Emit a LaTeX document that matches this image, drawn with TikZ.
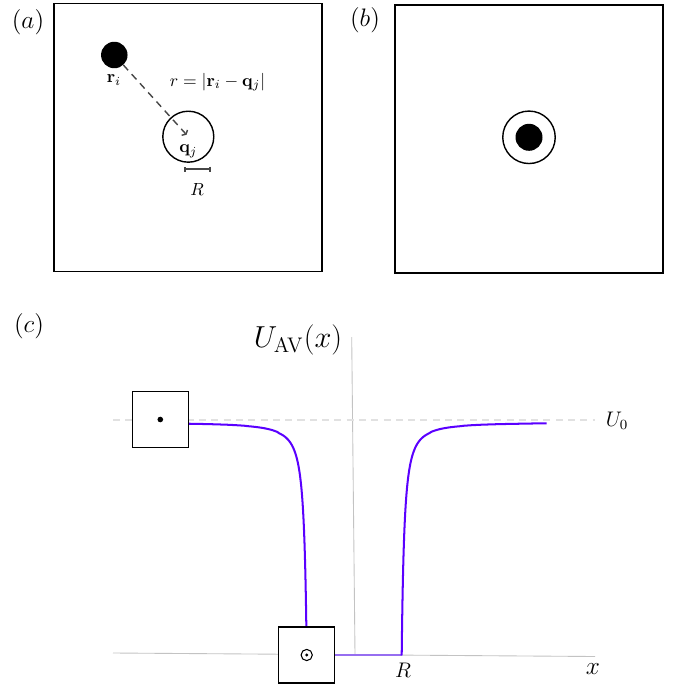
\documentclass[tikz,border=0pt]{standalone}
\usepackage{amsmath}
\usepackage{tikz}
\usetikzlibrary{arrows.meta,positioning}
\definecolor{ink}{RGB}{0,0,0}
\definecolor{darkline}{RGB}{70,70,70}
\definecolor{axisgray}{RGB}{195,195,195}
\definecolor{guidegray}{RGB}{225,225,225}
\definecolor{violet}{RGB}{90,0,255}
\definecolor{softviolet}{RGB}{150,110,240}
\tikzset{
  panel/.style={draw=ink,line width=1pt,minimum size=5.36cm,inner sep=0pt},
  site/.style={circle,fill=ink,inner sep=0pt},
  probe/.style={circle,draw=ink,line width=0.8pt,inner sep=0pt},
  inset/.style={draw=ink,line width=0.6pt,fill=white,minimum size=1.12cm,inner sep=0pt},
  tag/.style={font=\Large},
  axisline/.style={draw=axisgray,line width=0.5pt},
  guide/.style={draw=guidegray,line width=0.6pt,dash pattern=on 4pt off 3pt},
  curve/.style={draw=violet,line width=1.15pt},
  flat/.style={draw=softviolet,line width=1.15pt},
  sep/.style={-{Straight Barb[length=1.2pt,width=4.5pt]},draw=darkline,line width=0.8pt,dash pattern=on 4pt off 3pt,shorten >=1.5pt},
  ruler/.style={{Bar[width=3pt]}-{Bar[width=3pt]},draw=darkline,line width=1pt}
}

\begin{document}
\begin{tikzpicture}[x=0.02cm,y=-0.02cm]
  \useasboundingbox (0,0) rectangle (689,690);

  % (a) one particle and one probe
  \node[tag] (la) at (28,22) {$(a)$};
  \node[panel] (pa) at (188.3,137.5) {};
  \node[site,minimum size=0.53cm] (ri) at (114.3,55) {};
  \node[probe,minimum size=1.02cm] (qj) at (188.3,136.7) {};
  \node (rilab) at (114,80) {$\mathbf{r}_i$};
  \node (qjlab) at (188.3,151) {$\mathbf{q}_j$};
  \node (dist) at (217.5,82) {$r=|\mathbf{r}_i-\mathbf{q}_j|$};
  \draw[sep] (ri) -- (qj.center);
  \coordinate (rl) at (184,169.3);
  \coordinate (rr) at (210.7,169.3);
  \draw[ruler] (rl) -- (rr);
  \node (rlab) at (197,189) {$R$};

  % (b) probe on top of the particle
  \node[tag] (lb) at (365,20) {$(b)$};
  \node[panel] (pb) at (528.8,139.3) {};
  \node[probe,minimum size=1.05cm] (qb) at (529,137.3) {};
  \node[site,minimum size=0.54cm] (rb) at (529,137.3) {};

  % (c) averaged potential
  \node[tag] (lc) at (29,326) {$(c)$};
  \node[font=\LARGE] (ylab) at (298,340) {$U_{\mathrm{AV}}(x)$};
  \coordinate (ytop) at (351.7,337);
  \coordinate (ybot) at (355,654.5);
  \coordinate (xleft) at (113,653);
  \coordinate (xright) at (595,656.5);
  \coordinate (gleft) at (113,420);
  \coordinate (gright) at (595,420);
  \draw[axisline] (ytop) -- (ybot);
  \draw[axisline] (xleft) -- (xright);
  \draw[guide] (gleft) -- (gright);
  \node[font=\large] (u0) at (617,421) {$U_0$};
  \node[font=\Large] (xlab) at (593,669) {$x$};
  \node[font=\large] (Rlab) at (403,670) {$R$};

  \coordinate (wl) at (306.7,655);
  \coordinate (wr) at (401.7,655);
  \draw[flat] (wl) -- (wr);
  \draw[curve] plot[domain=0:12.04,samples=90,variable=\s]
    ({401.7+\s*\s},{422.3+233*pow(4/(\s*\s+4),1.5)});
  \draw[curve] plot[domain=0:12.03,samples=90,variable=\s]
    ({306.7-\s*\s},{422.3+233*pow(4/(\s*\s+4),1.5)});

  \node[inset] (far) at (160.3,419.5) {};
  \fill[ink] (far.center) circle[radius=1.6pt];
  \node[inset] (near) at (306.7,655) {};
  \draw[ink,line width=0.6pt] (near.center) circle[radius=3.2pt];
  \fill[ink] (near.center) circle[radius=0.9pt];
\end{tikzpicture}
\end{document}
